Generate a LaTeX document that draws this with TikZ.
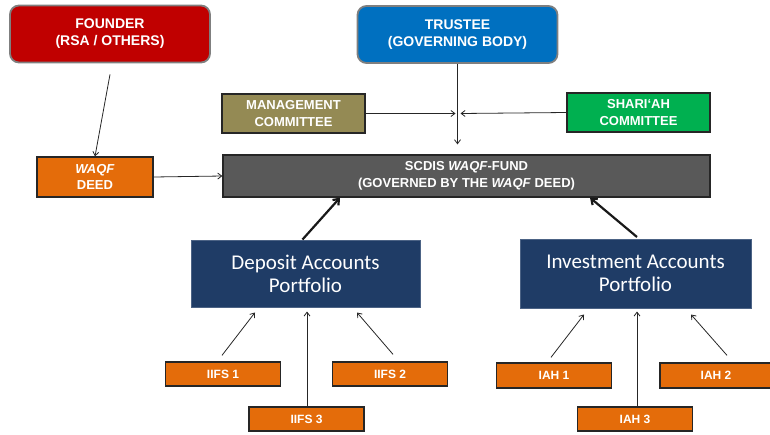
\documentclass[tikz,border=0pt]{standalone}
\usepackage{fontspec}
\setmainfont{Liberation Sans}
\newfontfamily\portfont{Carlito}
\usetikzlibrary{arrows.meta,positioning,calc}

\definecolor{founderred}{HTML}{C00000}
\definecolor{trusteeblue}{HTML}{0070C0}
\definecolor{mgmtolive}{HTML}{948A54}
\definecolor{shariagreen}{HTML}{00B050}
\definecolor{deedorange}{HTML}{E46C0A}
\definecolor{fundgrey}{HTML}{595959}
\definecolor{portnavy}{HTML}{1F3C66}
\definecolor{rimgrey}{HTML}{7F7F7F}

\begin{document}
\begin{tikzpicture}[x=1pt, y=-1pt,
  top/.style={draw=rimgrey, line width=1.8pt, rounded corners=9pt, inner sep=0pt, align=center, text=white, font=\bfseries\fontsize{14}{17}\selectfont, minimum width=200pt, minimum height=57pt},
  box/.style={draw=black!85, line width=1.3pt, inner sep=0pt, align=center, text=white, font=\bfseries\fontsize{13}{16.5}\selectfont},
  port/.style={draw=portnavy!80!white, line width=1pt, inner sep=0pt, align=center, text=white, fill=portnavy, font=\portfont\fontsize{21}{23}\selectfont, minimum width=229pt, minimum height=67pt},
  leaf/.style={box, fill=deedorange, minimum width=115pt, minimum height=24pt, font=\bfseries\fontsize{12}{14}\selectfont},
  thin/.style={draw=black!85, line width=0.8pt, -{Straight Barb[length=4pt,width=6pt]}},
  thick/.style={draw=black!90, line width=2.2pt, -{Straight Barb[length=5pt,width=8pt]}}
]
\useasboundingbox (0,0) rectangle (770,434);

% top row
\node[top, fill=founderred] (founder) at (110,34) {FOUNDER\\(RSA / OTHERS)};
\node[top, fill=trusteeblue] (trustee) at (457.5,34.5) {TRUSTEE\\(GOVERNING BODY)};

% committees
\node[box, fill=mgmtolive, minimum width=143pt, minimum height=39pt] (mgmt) at (293.5,113.5) {MANAGEMENT\\COMMITTEE};
\node[box, fill=shariagreen, minimum width=143pt, minimum height=39pt] (sharia) at (638.5,112.5) {SHARI‘AH\\COMMITTEE};

% deed and fund
\node[box, fill=deedorange, minimum width=116pt, minimum height=40pt] (deed) at (95,177) {\textit{WAQF}\\DEED};
\node[box, fill=fundgrey, minimum width=487pt, minimum height=42pt] (fund) at (466.5,176) {SCDIS \textit{WAQF}-FUND\\(GOVERNED BY THE \textit{WAQF} DEED)};

% portfolios
\node[port] (deposit) at (305.5,273.5) {Deposit Accounts\\Portfolio};
\node[port, minimum width=231pt, minimum height=69pt] (invest) at (635.5,273.5) {Investment Accounts\\Portfolio};

% depositors and account holders
\node[leaf] (iifsa) at (223,374) {IIFS 1};
\node[leaf] (iifsb) at (390,374) {IIFS 2};
\node[leaf] (iifsc) at (306.5,419) {IIFS 3};
\node[leaf, minimum height=25pt] (iaha) at (554,375.5) {IAH 1};
\node[leaf, minimum height=25pt, minimum width=112pt] (iahb) at (716,375.5) {IAH 2};
\node[leaf] (iahc) at (635,419) {IAH 3};

\coordinate (join) at (trustee.south |- mgmt.east);

\draw[thin] ([yshift=-11pt]founder.south) -- (deed.north);
\draw[thin] (deed.east) -- (fund.west);
\draw[thin, shorten >=10pt] (trustee.south) -- (trustee.south |- fund.north);
\draw[thin] (mgmt.east) -- ([xshift=-2pt]join);
\draw[thin] (sharia.west) -- ([xshift=3pt]join);

\draw[thick] ([xshift=-3pt]deposit.north) -- ([xshift=-126.5pt]fund.south);
\draw[thick] ([xshift=1.5pt,yshift=1.5pt]invest.north) -- ([xshift=123.5pt]fund.south);

\draw[thin] ([xshift=-1pt,yshift=6pt]iifsa.north) -- ([xshift=-50.5pt,yshift=-5pt]deposit.south);
\draw[thin] ([xshift=0.5pt]iifsc.north) -- ([xshift=1.5pt,yshift=-4pt]deposit.south);
\draw[thin] ([xshift=3pt,yshift=7pt]iifsb.north) -- ([xshift=51.5pt,yshift=-5pt]deposit.south);
\draw[thin] ([xshift=-3pt,yshift=5pt]iaha.north) -- ([xshift=-51.5pt,yshift=-6pt]invest.south);
\draw[thin] ([xshift=2pt]iahc.north) -- ([xshift=1.5pt,yshift=-3pt]invest.south);
\draw[thin] ([xshift=11pt,yshift=7pt]iahb.north) -- ([xshift=55.5pt,yshift=-6pt]invest.south);

\end{tikzpicture}
\end{document}
